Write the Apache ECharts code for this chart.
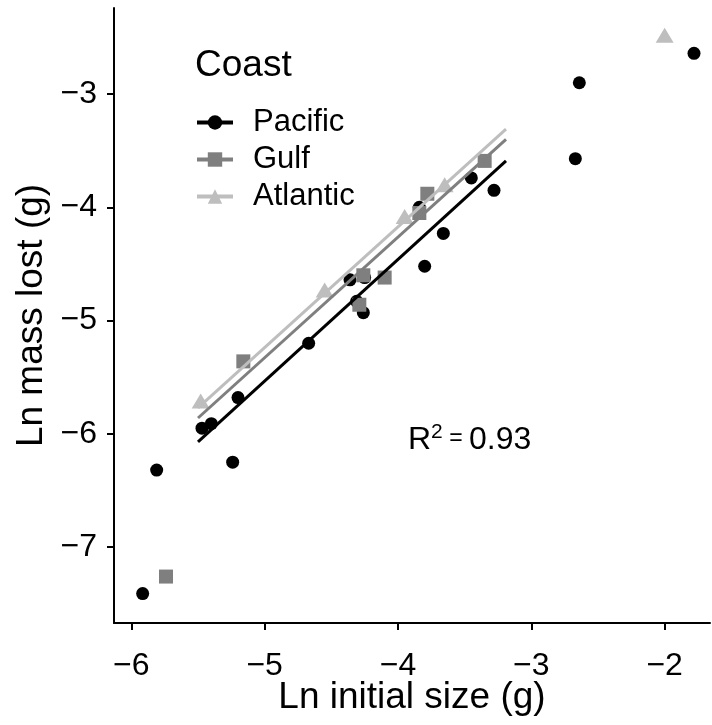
<!DOCTYPE html>
<html>
<head>
<meta charset="utf-8">
<script src="https://cdn.jsdelivr.net/npm/echarts@6/dist/echarts.min.js"></script>
<style>
  html, body { margin: 0; padding: 0; background: #fff; }
  #chart { width: 712px; height: 725px; }
</style>
</head>
<body>
<div id="chart"></div>
<script>
// points: [ln initial size, ln mass lost]
const pacific = [
  [-5.915, -7.41], [-5.81, -6.32], [-5.47, -5.95], [-5.40, -5.91], [-5.20, -5.68],
  [-5.24, -6.25], [-4.67, -5.20], [-4.36, -4.64], [-4.25, -4.62], [-4.31, -4.83],
  [-4.26, -4.93], [-3.80, -4.52], [-3.84, -4.00], [-3.66, -4.23], [-3.45, -3.74],
  [-3.28, -3.85], [-2.67, -3.57], [-2.64, -2.90], [-1.78, -2.64]
]
const gulf = [
  [-5.74, -7.26], [-5.16, -5.36], [-4.29, -4.86], [-4.26, -4.60], [-4.10, -4.62],
  [-3.84, -4.05], [-3.78, -3.88], [-3.35, -3.59]
]
const atlantic = [
  [-5.48, -5.71], [-4.55, -4.73], [-3.95, -4.08], [-3.65, -3.80], [-2.00, -2.48]
]
// fitted lines, start and end
const pacificFit = [[-5.50, -6.07], [-3.19, -3.59]]
const gulfFit = [[-5.50, -5.86], [-3.19, -3.40]]
const atlanticFit = [[-5.50, -5.77], [-3.19, -3.31]]

const coasts = ['Pacific', 'Gulf', 'Atlantic']
const xTicks = [-6, -5, -4, -3, -2]
const yTicks = [-7, -6, -5, -4, -3]

const font = 'Liberation Sans, Arial, Helvetica, sans-serif'
const colors = { Pacific: '#000000', Gulf: '#7f7f7f', Atlantic: '#bebebe' }
const symbols = { Pacific: 'circle', Gulf: 'rect', Atlantic: 'triangle' }
const sizes = { Pacific: 13, Gulf: 14, Atlantic: [18, 15] }
const points = { Pacific: pacific, Gulf: gulf, Atlantic: atlantic }
const fits = { Pacific: pacificFit, Gulf: gulfFit, Atlantic: atlanticFit }

const minus = (v) => String(v).replace('-', '\u2212')

const series = []
coasts.forEach((c) => {
  series.push({
    name: c,
    type: 'line',
    data: fits[c],
    symbol: symbols[c],
    symbolSize: sizes[c],
    showSymbol: false,
    z: 3,
    itemStyle: { color: colors[c] },
    lineStyle: { color: colors[c], width: 3 },
    silent: true
  })
})
coasts.forEach((c) => {
  series.push({
    name: c,
    type: 'scatter',
    data: points[c],
    symbol: symbols[c],
    symbolSize: sizes[c],
    z: 2,
    itemStyle: { color: colors[c], opacity: 1 }
  })
})

const chart = echarts.init(document.getElementById('chart'))
const option = {
  animation: false,
  backgroundColor: '#fff',
  textStyle: { fontFamily: font },
  grid: { left: 114, right: 2, top: 8, bottom: 102, outerBoundsMode: 'none', containLabel: false },
  title: {
    text: 'Coast',
    left: 190,
    top: 42,
    textStyle: { fontFamily: font, fontSize: 37, fontWeight: 'normal', color: '#000' }
  },
  legend: {
    data: coasts,
    orient: 'vertical',
    left: 190,
    top: 102,
    itemWidth: 36,
    itemHeight: 18,
    itemGap: 6,
    lineStyle: { width: 4 },
    textStyle: { fontFamily: font, fontSize: 31, color: '#000', lineHeight: 31, padding: [0, 0, 0, 15] }
  },
  xAxis: {
    type: 'value',
    min: -6.13,
    max: -1.66,
    name: 'Ln initial size (g)',
    nameLocation: 'middle',
    nameGap: 56,
    nameMoveOverlap: false,
    nameTextStyle: { fontFamily: font, fontSize: 37, color: '#000' },
    axisLine: { show: true, onZero: false, lineStyle: { color: '#000', width: 2 } },
    axisTick: { show: true, length: 7, customValues: xTicks, lineStyle: { color: '#000', width: 2 } },
    axisLabel: { customValues: xTicks, margin: 27, fontSize: 32, color: '#000', fontFamily: font, formatter: minus },
    splitLine: { show: false }
  },
  yAxis: {
    type: 'value',
    min: -7.67,
    max: -2.24,
    name: 'Ln mass lost (g)',
    nameLocation: 'middle',
    nameGap: 64,
    nameMoveOverlap: false,
    nameTextStyle: { fontFamily: font, fontSize: 37, color: '#000' },
    axisLine: { show: true, onZero: false, lineStyle: { color: '#000', width: 2 } },
    axisTick: { show: true, length: 7, customValues: yTicks, lineStyle: { color: '#000', width: 2 } },
    axisLabel: { customValues: yTicks, margin: 17, fontSize: 32, color: '#000', fontFamily: font, formatter: minus },
    splitLine: { show: false }
  },
  graphic: [{
    type: 'text',
    left: 408,
    top: 422,
    style: {
      text: '{a|R}{s|2}{e| = }{a|0.93}',
      rich: {
        a: { fontFamily: font, fontSize: 32, fill: '#000', verticalAlign: 'bottom' },
        s: { fontFamily: font, fontSize: 21, fill: '#000', verticalAlign: 'top', padding: [0, 0, 13, 0] },
        e: { fontFamily: font, fontSize: 23, fill: '#000' }
      }
    }
  }],
  series: series
}
option && chart.setOption(option)
</script>
</body>
</html>
